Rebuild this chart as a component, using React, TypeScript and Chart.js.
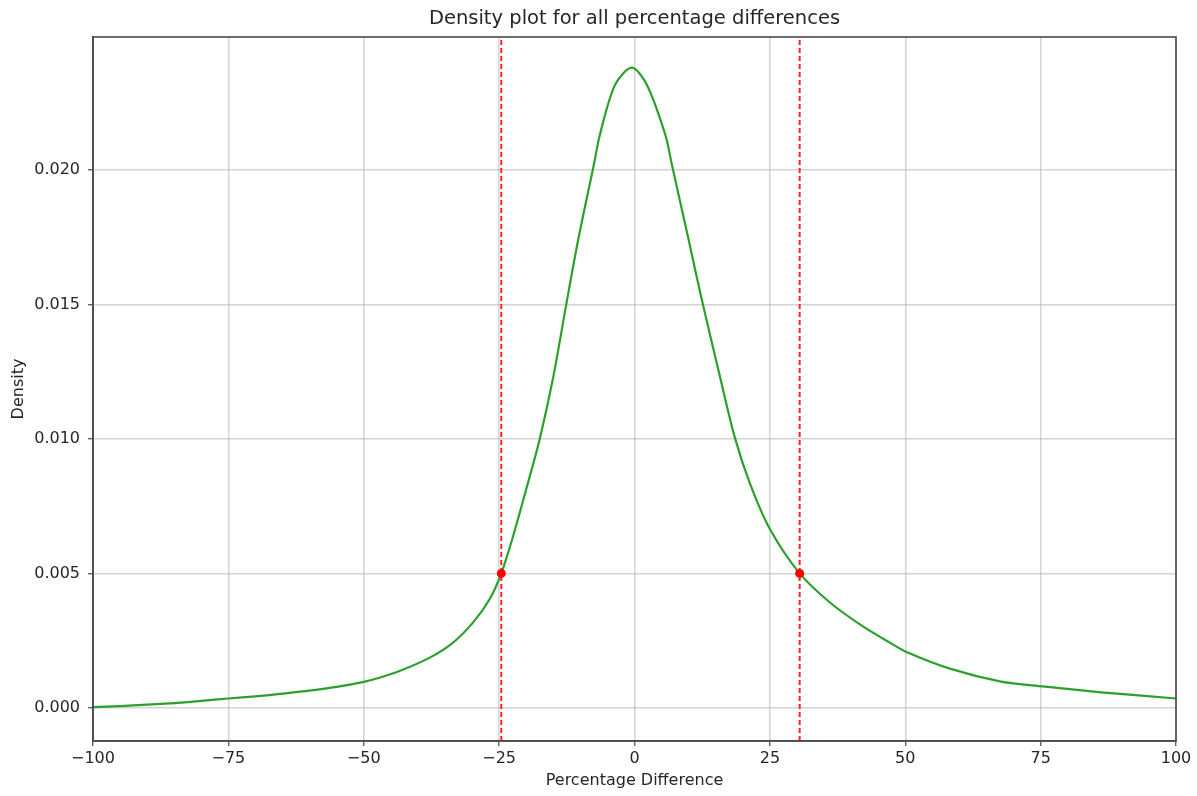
import React, { useEffect, useRef } from "react";
import { Chart, registerables } from "chart.js";

Chart.register(...registerables);

// Density curve
const xValues = [
  -100, -95, -90, -85, -80, -75, -70, -65, -60, -55, -50, -47.1, -43.4, -37.8, -33.5,
  -29.8, -26.7, -24.6, -22.4, -19.9, -17.5, -15, -12.6, -10.4, -7.5, -6.4, -3.6,
  -0.5, 2.3, 5.7, 6.9, 10, 12.4, 15.8, 18.6, 21.4, 25, 30.5, 36.2, 42.4, 47.4, 50,
  58.4, 67.7, 75.4, 86.2, 100,
];
const densityValues = [
  0.00003, 0.00007, 0.00012, 0.00018, 0.00026, 0.00035, 0.00043, 0.00053, 0.00064,
  0.00078, 0.00097, 0.00112, 0.00137, 0.00187, 0.00243, 0.00318, 0.00406, 0.005,
  0.0064, 0.0082, 0.01, 0.0123, 0.015, 0.0174, 0.0202, 0.0213, 0.02316, 0.0238,
  0.02316, 0.0213, 0.0202, 0.0174, 0.0152, 0.0123, 0.01, 0.0083, 0.00665, 0.005,
  0.0039, 0.003, 0.0024, 0.0021, 0.00145, 0.00098, 0.0008, 0.00058, 0.00035,
];

// Bounds (red dashed lines and dots)
const boundXs = [-24.6, 30.5];
const boundDensity = 0.005;

// Axes
const xMin = -100;
const xMax = 100;
const yMin = -0.00123;
const yMax = 0.02494;
const xTicks = [-100, -75, -50, -25, 0, 25, 50, 75, 100];
const yTicks = [0, 0.005, 0.01, 0.015, 0.02];

const titleText = "Density plot for all percentage differences";
const xLabel = "Percentage Difference";
const yLabel = "Density";

const FONT = '"DejaVu Sans", sans-serif';

export default function App() {
  const ref = useRef<HTMLCanvasElement | null>(null);

  useEffect(() => {
    document.body.style.margin = "0";
    const canvas = ref.current;
    if (!canvas) return;

    const framePlugin = {
      id: "framePlugin",
      afterDraw(chart: any) {
        const { ctx, chartArea } = chart;
        const { left, right, top, bottom } = chartArea;
        ctx.save();
        ctx.strokeStyle = "#4a4a4a";
        ctx.lineWidth = 1.6;
        ctx.strokeRect(left, top, right - left, bottom - top);
        ctx.fillStyle = "#262626";
        ctx.textAlign = "center";
        ctx.textBaseline = "middle";
        ctx.font = `19.5px ${FONT}`;
        ctx.fillText(titleText, (left + right) / 2, 19);
        ctx.font = `16px ${FONT}`;
        ctx.fillText(xLabel, (left + right) / 2, 781);
        ctx.translate(19, (top + bottom) / 2);
        ctx.rotate(-Math.PI / 2);
        ctx.fillText(yLabel, 0, 0);
        ctx.restore();
      },
    };

    const curve = xValues.map((x, i) => ({ x, y: densityValues[i] }));
    const lineSets = boundXs.map((bx) => ({
      type: "line" as const,
      data: [
        { x: bx, y: yMin },
        { x: bx, y: yMax },
      ],
      borderColor: "#ff2020",
      borderWidth: 2,
      borderDash: [5, 3],
      pointRadius: 0,
      order: 1,
    }));

    const chart = new Chart(canvas, {
      type: "line",
      data: {
        datasets: [
          {
            data: curve,
            borderColor: "#2ca02c",
            borderWidth: 2.2,
            pointRadius: 0,
            tension: 0.3,
            order: 2,
          },
          ...lineSets,
          {
            data: boundXs.map((bx) => ({ x: bx, y: boundDensity })),
            showLine: false,
            pointRadius: 4.5,
            pointBackgroundColor: "#ff0000",
            pointBorderColor: "#ff0000",
            pointBorderWidth: 0,
            order: 0,
          },
        ] as any,
      },
      plugins: [framePlugin],
      options: {
        animation: false,
        responsive: false,
        maintainAspectRatio: false,
        layout: { padding: { left: 0, right: 21, top: 37, bottom: 0 } },
        plugins: {
          legend: { display: false },
          tooltip: { enabled: false },
          title: { display: false },
        },
        scales: {
          x: {
            type: "linear",
            min: xMin,
            max: xMax,
            afterBuildTicks: (scale: any) => {
              scale.ticks = xTicks.map((v) => ({ value: v }));
            },
            afterFit: (scale: any) => {
              scale.height = 55;
            },
            grid: {
              color: "rgba(176,176,176,0.55)",
              lineWidth: 1.5,
              drawTicks: true,
              tickLength: 5,
              tickColor: "#4a4a4a",
              tickWidth: 1.2,
            },
            border: { display: true, color: "#4a4a4a", width: 1.6 },
            ticks: {
              autoSkip: false,
              maxRotation: 0,
              padding: 3,
              color: "#262626",
              font: { family: FONT, size: 16 },
              callback: (v: any) => {
                const n = Number(v);
                return n < 0 ? "\u2212" + Math.abs(n) : String(n);
              },
            },
          },
          y: {
            type: "linear",
            min: yMin,
            max: yMax,
            afterBuildTicks: (scale: any) => {
              scale.ticks = yTicks.map((v) => ({ value: v }));
            },
            afterFit: (scale: any) => {
              scale.width = 93;
            },
            grid: {
              color: "rgba(176,176,176,0.55)",
              lineWidth: 1.5,
              drawTicks: true,
              tickLength: 5,
              tickColor: "#4a4a4a",
              tickWidth: 1.2,
            },
            border: { display: true, color: "#4a4a4a", width: 1.6 },
            ticks: {
              autoSkip: false,
              padding: 8,
              color: "#262626",
              font: { family: FONT, size: 16 },
              callback: (v: any) => Number(v).toFixed(3),
            },
          },
        },
      },
    });

    return () => chart.destroy();
  }, []);

  return (
    <div style={{ position: "absolute", left: 0, top: 0, width: 1197, height: 796 }}>
      <canvas ref={ref} width={1197} height={796} style={{ display: "block" }} />
    </div>
  );
}
